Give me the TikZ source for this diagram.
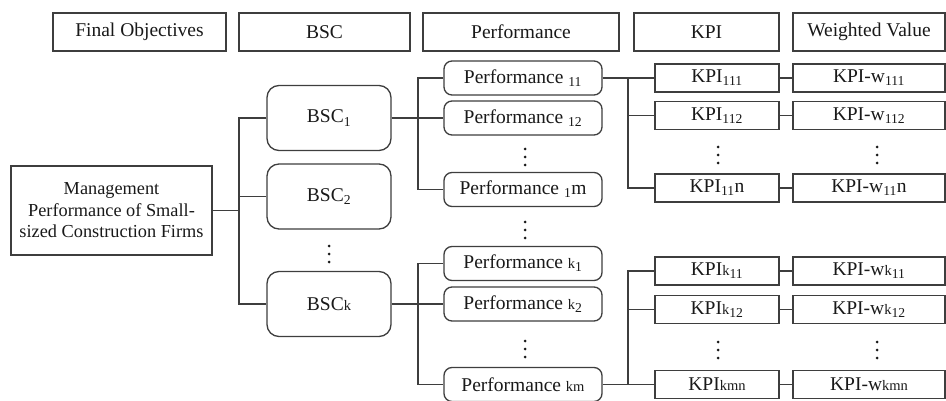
\documentclass[tikz,border=0pt]{standalone}
\usepackage{fontspec}
\setmainfont{Liberation Serif}
\usetikzlibrary{positioning,calc}
\definecolor{linegray}{RGB}{62,62,62}
\definecolor{textblack}{RGB}{25,25,25}
\newcommand{\lowtxt}[1]{{\fontsize{14.5}{14.5}\selectfont #1}}
\tikzset{
  basebox/.style={draw=linegray, line width=1.3pt, inner sep=0pt, text=textblack,
    font=\fontsize{19.5}{22}\selectfont},
  headbox/.style={basebox, minimum height=38pt},
  mainbox/.style={basebox, minimum width=201pt, minimum height=89pt, align=center,
    font=\fontsize{18.3}{21.5}\selectfont},
  bscbox/.style={basebox, rounded corners=12pt, minimum width=124pt, minimum height=65pt},
  perfbox/.style={basebox, rounded corners=8pt, minimum width=158pt, minimum height=34pt},
  kpibox/.style={basebox, minimum width=124pt, minimum height=28pt},
  wbox/.style={basebox, minimum width=152pt, minimum height=28pt},
  vdotpic/.pic={\fill[textblack] (0,-8) circle (1.5pt) (0,0) circle (1.5pt) (0,8) circle (1.5pt);},
  link/.style={draw=linegray, line width=1.3pt}
}

\begin{document}
\begin{tikzpicture}[x=1pt, y=-1pt]
\useasboundingbox (0,0) rectangle (946,401);

% === Header row ===
\node[headbox, minimum width=173pt] (hObj)  at (139.5,32) {Final Objectives};
\node[headbox, minimum width=171pt] (hBSC)  at (324.5,32) {BSC};
\node[headbox, minimum width=196pt] (hPerf) at (521,32)   {Performance};
\node[headbox, minimum width=145pt] (hKPI)  at (706.5,32) {KPI};
\node[headbox, minimum width=152pt] (hWV)   at (869,32)   {Weighted Value};

% === Final objective ===
\node[mainbox] (main) at (111.5,210.5) {Management\\Performance of Small-\\sized Construction Firms};

% === BSC column ===
\node[bscbox] (bsc1) at (329,118)   {BSC\textsubscript{1}};
\node[bscbox] (bsc2) at (329,196.5) {BSC\textsubscript{2}};
\pic (bscdots) at (329,254) {vdotpic};
\node[bscbox] (bsck) at (329,304)   {BSC\lowtxt{k}};

% === Performance column ===
\node[perfbox] (p11) at (523,78)    {Performance \textsubscript{11}};
\node[perfbox] (p12) at (523,118)   {Performance \textsubscript{12}};
\pic (pdots1) at (525,157) {vdotpic};
\node[perfbox] (p1m) at (523,189.5) {Performance \textsubscript{1}m};
\pic (pdots2) at (525,230) {vdotpic};
\node[perfbox] (pk1) at (523,263.5) {Performance \lowtxt{k}\textsubscript{1}};
\node[perfbox] (pk2) at (523,304)   {Performance \lowtxt{k}\textsubscript{2}};
\pic (pdots3) at (525,349) {vdotpic};
\node[perfbox] (pkm) at (523,384.5) {Performance \lowtxt{km}};

% === KPI column ===
\node[kpibox] (k111) at (717,78)    {KPI\textsubscript{111}};
\node[kpibox] (k112) at (717,115.5) {KPI\textsubscript{112}};
\pic (kdots1) at (718,155) {vdotpic};
\node[kpibox] (k11n) at (717,188)   {KPI\textsubscript{11}n};
\node[kpibox] (kk11) at (717,271)   {KPI\lowtxt{k}\textsubscript{11}};
\node[kpibox] (kk12) at (717,309.5) {KPI\lowtxt{k}\textsubscript{12}};
\pic (kdots2) at (718,350) {vdotpic};
\node[kpibox] (kkmn) at (717,384.5) {KPI\lowtxt{kmn}};

% === Weighted value column ===
\node[wbox] (w111) at (869,78)    {KPI-w\textsubscript{111}};
\node[wbox] (w112) at (869,115.5) {KPI-w\textsubscript{112}};
\pic (wdots1) at (877,155) {vdotpic};
\node[wbox] (w11n) at (869,188)   {KPI-w\textsubscript{11}n};
\node[wbox] (wk11) at (869,271)   {KPI-w\lowtxt{k}\textsubscript{11}};
\node[wbox] (wk12) at (869,309.5) {KPI-w\lowtxt{k}\textsubscript{12}};
\pic (wdots2) at (877,350) {vdotpic};
\node[wbox] (wkmn) at (869,384.5) {KPI-w\lowtxt{kmn}};

% Trunk positions
\coordinate (tA) at (239,0);
\coordinate (tB) at (418,0);
\coordinate (tC) at (628,0);

% Objective -> BSC
\draw[link] (main.east) -- (main.east -| tA);
\draw[link] (bsc1.west) -- (bsc1.west -| tA) |- (bsck.west);
\draw[link] (bsc2.west) -- (bsc2.west -| tA);

% BSC -> Performance
\draw[link] (bsc1.east) -- (p12.west);
\draw[link] (p11.west) -- (p11.west -| tB) |- (p1m.west);
\draw[link] (bsck.east) -- (pk2.west);
\draw[link] (pk1.west) -- (pk1.west -| tB) |- (pkm.west);

% Performance -> KPI
\draw[link] (p11.east) -- (k111.west);
\draw[link] (k111.west) -- (k111.west -| tC) |- (k11n.west);
\draw[link] (k112.west) -- (k112.west -| tC);
\draw[link] (pkm.east) -- (kkmn.west);
\draw[link] (kk11.west) -- (kk11.west -| tC) |- (kkmn.west);
\draw[link] (kk12.west) -- (kk12.west -| tC);

% KPI -> weighted value
\draw[link] (k111.east) -- (w111.west);
\draw[link] (k112.east) -- (w112.west);
\draw[link] (k11n.east) -- (w11n.west);
\draw[link] (kk11.east) -- (wk11.west);
\draw[link] (kk12.east) -- (wk12.west);
\draw[link] (kkmn.east) -- (wkmn.west);

\end{tikzpicture}
\end{document}
